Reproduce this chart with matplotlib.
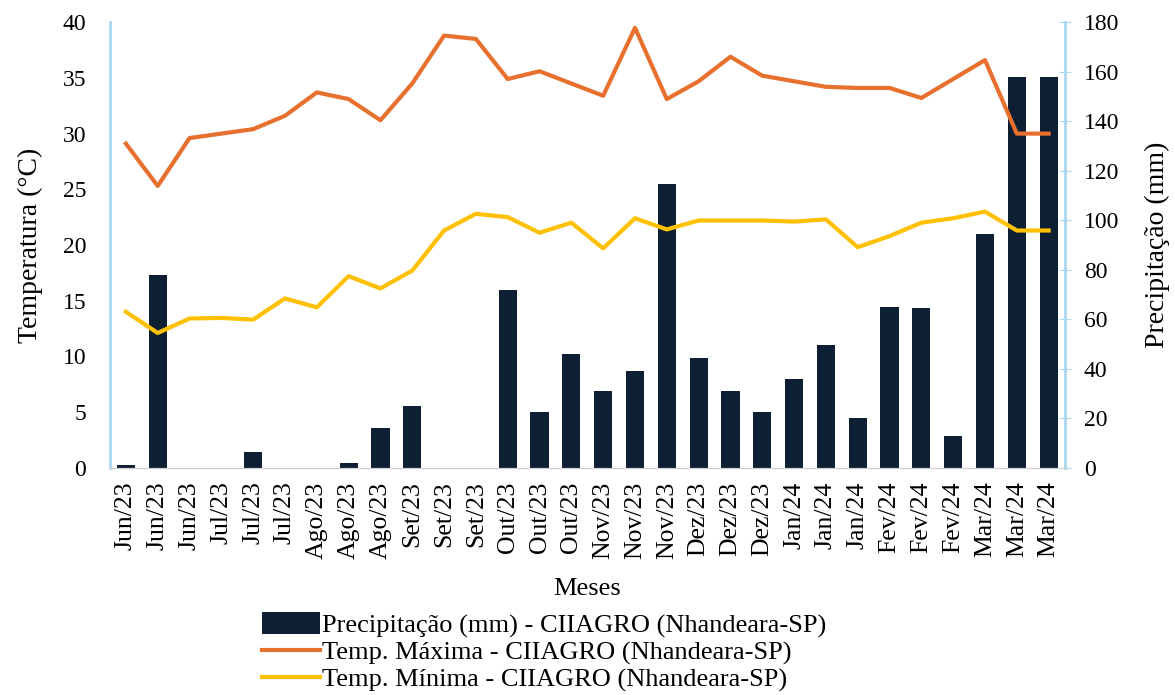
import numpy as np
import matplotlib
matplotlib.use('Agg')
import matplotlib.pyplot as plt

plt.rcParams['font.family'] = ['Liberation Serif', 'DejaVu Serif']

# Data
meses = ['Jun/23'] * 3 + ['Jul/23'] * 3 + ['Ago/23'] * 3 + ['Set/23'] * 3 + \
        ['Out/23'] * 3 + ['Nov/23'] * 3 + ['Dez/23'] * 3 + ['Jan/24'] * 3 + \
        ['Fev/24'] * 3 + ['Mar/24'] * 3

precip = [1.3, 78, 0, 0, 6.3, 0, 0, 2, 16, 25,
          0, 0, 72, 22.5, 46, 31, 39, 114.5, 44.5, 31,
          22.5, 36, 49.5, 20, 65, 64.5, 13, 94.5, 158, 158]

temp_max = [29.1, 25.3, 29.6, 30.0, 30.4, 31.6, 33.7, 33.1, 31.2, 34.5,
            38.8, 38.5, 34.9, 35.6, 34.5, 33.4, 39.5, 33.1, 34.7, 36.9,
            35.2, 34.7, 34.2, 34.1, 34.1, 33.2, 34.9, 36.6, 30.0, 30.0]

temp_min = [14.0, 12.1, 13.4, 13.45, 13.3, 15.2, 14.4, 17.2, 16.1, 17.7,
            21.3, 22.8, 22.5, 21.1, 22.0, 19.7, 22.4, 21.4, 22.2, 22.2,
            22.2, 22.1, 22.3, 19.8, 20.8, 22.0, 22.4, 23.0, 21.3, 21.3]

x = np.arange(len(meses))

fig = plt.figure(figsize=(11.75, 6.95), dpi=100)
ax = fig.add_axes([0.0936, 0.327, 0.8124, 0.641])
ax2 = ax.twinx()

# bars on the right axis, lines on the left
ax.set_zorder(ax2.get_zorder() + 1)
ax.patch.set_visible(False)

bars = ax2.bar(x, precip, width=0.57, color='#0E1F33', zorder=2)
l1, = ax.plot(x, temp_max, color='#E8702F', lw=3, zorder=3)
l2, = ax.plot(x, temp_min, color='#FFC000', lw=3, zorder=3)

ax.set_xlim(-0.5, len(meses) - 0.5)
ax.set_ylim(0, 40)
ax2.set_ylim(0, 180)
ax.set_yticks(np.arange(0, 41, 5))
ax2.set_yticks(np.arange(0, 181, 20))
ax.set_xticks(x)
ax.set_xticklabels(meses, rotation=90, fontsize=18.5)

ax.tick_params(axis='y', labelsize=17, length=0, pad=17)
ax.tick_params(axis='x', length=0, pad=10)
ax2.tick_params(axis='y', labelsize=17, length=8, direction='inout',
                color='#A9D8F0', pad=10)

for a in (ax, ax2):
    a.spines['top'].set_visible(False)
    a.spines['bottom'].set_color('#D0D0D0')
ax.spines['right'].set_visible(False)
ax.spines['left'].set_color('#A9D8F0')
ax.spines['left'].set_linewidth(2)
ax2.spines['left'].set_visible(False)
ax2.spines['right'].set_color('#A9D8F0')
ax2.spines['right'].set_linewidth(2)

ax.set_ylabel('Temperatura (°C)', fontsize=20, labelpad=14)
ax2.set_ylabel('Precipitação (mm)', fontsize=20, labelpad=18)
ax.set_xlabel('Meses', fontsize=19, labelpad=14)

fig.legend([bars, l1, l2],
           ['Precipitação (mm) - CIIAGRO (Nhandeara-SP)',
            'Temp. Máxima - CIIAGRO (Nhandeara-SP)',
            'Temp. Mínima - CIIAGRO (Nhandeara-SP)'],
           loc='upper left', bbox_to_anchor=(0.214, 0.134), ncol=1, frameon=False,
           fontsize=19, handlelength=2.2, handleheight=0.9, handletextpad=0.08,
           labelspacing=0.06, borderaxespad=0)

fig.savefig('out.png', dpi=100)
